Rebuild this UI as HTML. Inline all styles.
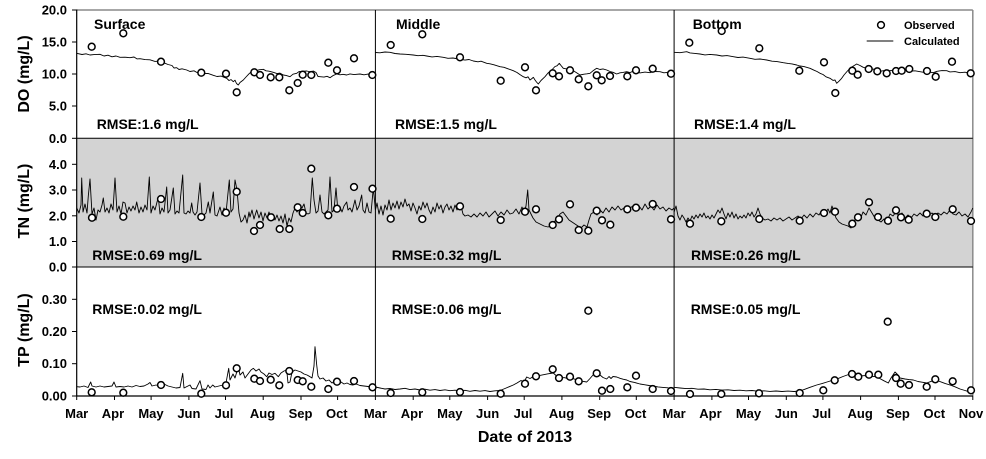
<!DOCTYPE html>
<html>
<head>
<meta charset="utf-8">
<style>
html,body{margin:0;padding:0;background:#fff;}
svg{display:block;}
text{font-family:"Liberation Sans",Arial,sans-serif;font-weight:bold;fill:#000;}
.ln{fill:none;stroke:#000;stroke-width:0.9;stroke-linejoin:round;}
.ob circle{fill:#fff;stroke:#000;stroke-width:1.5;}
</style>
</head>
<body>
<svg width="986" height="459" viewBox="0 0 986 459" xmlns="http://www.w3.org/2000/svg">
<!-- TN grey background -->
<rect x="76.7" y="138.3" width="896.1" height="128.7" fill="#d3d3d3"/>

<!-- frame -->
<line x1="76.7" y1="10" x2="972.8" y2="10" stroke="#8a8a8a" stroke-width="1.5"/>
<line x1="972.8" y1="10" x2="972.8" y2="396" stroke="#8a8a8a" stroke-width="1.5"/>
<line x1="76.7" y1="9.5" x2="76.7" y2="396" stroke="#000" stroke-width="1.2"/>
<line x1="76.7" y1="396" x2="972.8" y2="396" stroke="#000" stroke-width="1.2"/>
<line x1="76.7" y1="138.3" x2="972.8" y2="138.3" stroke="#000" stroke-width="1"/>
<line x1="76.7" y1="267" x2="972.8" y2="267" stroke="#000" stroke-width="1"/>
<line x1="375.4" y1="10" x2="375.4" y2="396" stroke="#000" stroke-width="1"/>
<line x1="674.1" y1="10" x2="674.1" y2="396" stroke="#000" stroke-width="1"/>

<!-- y ticks -->
<g stroke="#000" stroke-width="1">
<line x1="72" y1="10" x2="76.7" y2="10"/><line x1="72" y1="42" x2="76.7" y2="42"/><line x1="72" y1="74" x2="76.7" y2="74"/><line x1="72" y1="106" x2="76.7" y2="106"/><line x1="72" y1="138.3" x2="76.7" y2="138.3"/>
<line x1="72" y1="164.3" x2="76.7" y2="164.3"/><line x1="72" y1="190" x2="76.7" y2="190"/><line x1="72" y1="215.8" x2="76.7" y2="215.8"/><line x1="72" y1="241.5" x2="76.7" y2="241.5"/><line x1="72" y1="267" x2="76.7" y2="267"/>
<line x1="72" y1="299.3" x2="76.7" y2="299.3"/><line x1="72" y1="331.5" x2="76.7" y2="331.5"/><line x1="72" y1="363.7" x2="76.7" y2="363.7"/><line x1="72" y1="396" x2="76.7" y2="396"/>
</g>
<!-- y tick labels -->
<g font-size="13" text-anchor="end">
<text x="67" y="14.5">20.0</text><text x="67" y="46.5">15.0</text><text x="67" y="78.5">10.0</text><text x="67" y="110.5">5.0</text><text x="67" y="142.8">0.0</text>
<text x="67" y="168.8">4.0</text><text x="67" y="194.5">3.0</text><text x="67" y="220.3">2.0</text><text x="67" y="246">1.0</text><text x="67" y="271.5">0.0</text>
<text x="67" y="303.8">0.30</text><text x="67" y="336">0.20</text><text x="67" y="368.2">0.10</text><text x="67" y="400.5">0.00</text>
</g>

<!-- x ticks -->
<g stroke="#000" stroke-width="1">
<line x1="76.7" y1="396" x2="76.7" y2="400"/><line x1="114.5" y1="396" x2="114.5" y2="400"/><line x1="151.1" y1="396" x2="151.1" y2="400"/><line x1="188.9" y1="396" x2="188.9" y2="400"/><line x1="225.5" y1="396" x2="225.5" y2="400"/><line x1="263.2" y1="396" x2="263.2" y2="400"/><line x1="301" y1="396" x2="301" y2="400"/><line x1="337.6" y1="396" x2="337.6" y2="400"/>
<line x1="375.4" y1="396" x2="375.4" y2="400"/><line x1="413.2" y1="396" x2="413.2" y2="400"/><line x1="449.8" y1="396" x2="449.8" y2="400"/><line x1="487.6" y1="396" x2="487.6" y2="400"/><line x1="524.2" y1="396" x2="524.2" y2="400"/><line x1="561.9" y1="396" x2="561.9" y2="400"/><line x1="599.7" y1="396" x2="599.7" y2="400"/><line x1="636.3" y1="396" x2="636.3" y2="400"/>
<line x1="674.1" y1="396" x2="674.1" y2="400"/><line x1="711.9" y1="396" x2="711.9" y2="400"/><line x1="748.5" y1="396" x2="748.5" y2="400"/><line x1="786.3" y1="396" x2="786.3" y2="400"/><line x1="822.9" y1="396" x2="822.9" y2="400"/><line x1="860.6" y1="396" x2="860.6" y2="400"/><line x1="898.4" y1="396" x2="898.4" y2="400"/><line x1="935" y1="396" x2="935" y2="400"/><line x1="972.8" y1="396" x2="972.8" y2="400"/>
</g>
<g font-size="13" text-anchor="middle">
<text x="76.7" y="418">Mar</text><text x="113" y="418">Apr</text><text x="151" y="418">May</text><text x="188.9" y="418">Jun</text><text x="224" y="418">Jul</text><text x="262.5" y="418">Aug</text><text x="300.5" y="418">Sep</text><text x="336.8" y="418">Oct</text>
<text x="375.4" y="418">Mar</text><text x="412" y="418">Apr</text><text x="449.8" y="418">May</text><text x="487.6" y="418">Jun</text><text x="523" y="418">Jul</text><text x="561.5" y="418">Aug</text><text x="599.2" y="418">Sep</text><text x="635.5" y="418">Oct</text>
<text x="674.1" y="418">Mar</text><text x="710.5" y="418">Apr</text><text x="748.5" y="418">May</text><text x="786.3" y="418">Jun</text><text x="821.7" y="418">Jul</text><text x="860.2" y="418">Aug</text><text x="897.9" y="418">Sep</text><text x="934.3" y="418">Oct</text><text x="971" y="418">Nov</text>
</g>
<text x="525" y="442" font-size="16" text-anchor="middle">Date of 2013</text>

<!-- axis titles -->
<text transform="translate(29,74) rotate(-90)" font-size="16" text-anchor="middle">DO (mg/L)</text>
<text transform="translate(29,201) rotate(-90)" font-size="16" text-anchor="middle">TN (mg/L)</text>
<text transform="translate(29,330) rotate(-90)" font-size="16" text-anchor="middle">TP (mg/L)</text>

<!-- panel labels -->
<g font-size="14">
<text x="94" y="29">Surface</text>
<text x="396" y="29">Middle</text>
<text x="692.7" y="29">Bottom</text>
<text x="96.7" y="129">RMSE:1.6 mg/L</text>
<text x="395" y="129">RMSE:1.5 mg/L</text>
<text x="694" y="129">RMSE:1.4 mg/L</text>
<text x="92.3" y="260">RMSE:0.69 mg/L</text>
<text x="391.7" y="260">RMSE:0.32 mg/L</text>
<text x="691" y="260">RMSE:0.26 mg/L</text>
<text x="92.3" y="314">RMSE:0.02 mg/L</text>
<text x="391.7" y="314">RMSE:0.06 mg/L</text>
<text x="690.7" y="314">RMSE:0.05 mg/L</text>
</g>

<!-- legend -->
<circle cx="881" cy="25" r="3.4" fill="#fff" stroke="#000" stroke-width="1.5"/>
<text x="904" y="29" font-size="11">Observed</text>
<line x1="866.7" y1="41" x2="893.3" y2="41" stroke="#000" stroke-width="1"/>
<text x="904" y="45" font-size="11">Calculated</text>

<!-- DO lines -->
<polyline class="ln" points="76.7,53.3 82,54.5 86,53.8 90,55 94,54.6 100,54.3 104,56 108,55.2 112,56.8 116,56 120,57.3 125,57.2 130,57.7 134,57 137,58.9 140,58.7 145,59.6 150,59.8 155,61.4 160,61 164,62.8 168,64.5 172,65.5 174,68 176.7,67.7 179,69.5 182,68.8 186.7,70 190,71.5 194,70.8 197,72.5 200,72 204,73.6 208,73.4 213.3,75.3 217,76.5 221,76.1 226.7,78.3 229,80.5 231,79.6 233.3,81.7 235,80.2 236.5,83.5 238.3,85 240,82.5 243.3,80 246,77 249,73.8 253.3,70 256,71 259,69.8 263.3,69.3 266,70.8 269,71.2 273.3,72.3 277,73.6 280,73.1 283.3,75 286,75.4 290,76.7 293,74.2 296.7,73.3 299,71.6 303,71.3 306.7,71 310,71.8 313.3,71 316,72.5 318,76.5 320,76.7 324,77.1 327,76.3 330,77.7 333,75.6 336.7,74 340,74.8 343,74.3 346.7,75 350,73.9 354,74.6 360,74 364,74.8 368,74.1 373.3,75 375.4,74.5"/>
<polyline class="ln" points="375.4,52.5 380,52.8 385,52 390,52.3 395,53.5 400,54 406,54.3 413.3,55 418,55.7 423,55.3 426.7,56 432,56.9 437,56.4 443.3,57.3 448,58.3 453,58 460,59.3 465,60.1 469,59.5 473.3,61 478,61.8 481,61.2 486.7,63.3 490,63.8 494,64.8 500,66.7 504,67.3 508,68.8 513.3,70.7 517,72.5 520,74.6 523.3,76.7 526,77.8 528,76.8 530,80 532,78.5 533.3,77.3 535,80 536.5,82 538.3,84 541,80.5 545,76.7 548,73 551.7,70 555,66.5 557,65.8 559.3,63.3 561,65.5 563.3,68.3 566,68.8 569,69.5 573.3,70.7 576,72.4 580,75 584,74.2 587,73.8 590,73.3 593,70.8 596.7,68.3 600,69.5 603,68.9 606.7,70 610,71.5 613,72.3 616.7,74 620,72.8 623,72.4 626.7,71.7 630,72.6 633,71.2 636.7,71.7 640,72.9 645,72.1 650,72.7 654,71.5 660,71.7 664,72.8 668,72.3 674.1,73.3"/>
<polyline class="ln" points="674.1,52.3 680,52.7 686.7,51.7 690,52.9 695,53.4 700,54 705,54.9 710,54.4 716.7,55 722,56 727,55.6 733.3,56.7 738,57.5 743,57.1 750,58.3 755,59.3 760,59 766.7,60 772,61.2 777,61.6 783.3,62.7 788,63.4 792,63.9 796.7,65 800,66 804,66.6 810,68.3 814,70.2 817,71.5 820,73.3 823,74.5 826,76.8 830,78.3 833,80.4 835,80 836.7,83.3 839,81.2 841.7,78.3 844,75 847,71.5 850,68.3 853,66.2 856.7,64 860,65.5 863,67.2 866.7,68.3 870,69.4 873,69.1 876.7,70 880,71.3 885,70.4 890,70.7 895,69.8 900,70.6 906.7,70 910,71.2 915,70.8 920,71.7 925,72.6 929,72.1 933.3,72.7 937,71.3 942,70.6 946.7,70.7 950,71.9 955,71.6 960,72.7 965,72.2 969,73.1 972.8,73.3"/>

<!-- TN lines -->
<polyline class="ln" points="76.7,208 79,213 81,205 81.7,178 83,212 85,204 87,213 88.3,196 90,179 92,214 94,208 96,220 98,210 100,212 102,205 103.3,198 105,212 107,208 109,213 111,204 113,210 115,178 117,212 119,206 121,214 123,202 125,203 127,213 129,207 131,211 133,206 135,210 136.7,202 139,213 141,207 143,212 145,205 147,210 149.3,177 151,213 153,206 155,210 158.3,197 160,214 162,208 164,212 166.7,187 168,213 170,210 173.3,188 175,214 177,211 179,213 182.7,175 184,213 186,214 188,211 190,213 191.7,203 193,212 195,215 197,212 200,183 202,214 204,215 206,213 208.3,202 210,213 213.3,192 215,215 217,216 220,207 222,215 224,208 226,213 229.3,180 231,212 233,209 235,180 237,190 239,213 241,222 243,220 245,215 247,223 249,212 250,217 252,210 254,219 256.7,210 259,218 261,212 263,221 265,213 267,218 269,212 271,219 273,214 275,220 277,215 279,221 281,216 283,223 285,214 287,226 289,218 291,222 293,213 295,208 297,212 300,206 302,208 304,204 306,213 308,214 310,213 312.3,178 314,200 316,213 318,211 320,195 322,212 324,214 326,212 328,210 330,177 332,212 334,210 336,188 338,212 340,207 342,212 344,206 346.7,202 348,210 350,208 352,212 355,200 357,210 359,206 361.7,195 363,210 365,213 367,203 369,212 371,213 373.3,188 375.4,210"/>
<polyline class="ln" points="375.4,210 377,203 379,214 381,206 383,215 385,205 387,210 389,200 391,210 393,203 395,208 397,201 399,209 401,202 403,207 405,199 407,206 409,204 411,211 413,203 415,208 417,214 419,206 421,210 423,202 425,208 427,203 429,210 431,214 433,207 435,212 437,203 439,209 441,205 443,213 445,207 447,204 449,210 451,206 453,212 455,205 457,210 459,203 461,206 463,214 465,216 468,215 471,217 474,214 477,217 480,213 483,216 486,212 489,217 492,214 495,211 498,216 501,212 504,215 507,210 510,214 513,213 516,209 519,214 522,207 524,212 526,206 527.7,190 529,210 531,214 533,218 536,222 540,224 544,226 548,227 551,226 554,222 557,219 560,214 563,212 566,216 569,220 572,222 575,224 578,226 581,228 584,225 587,227 589,220 591,214 594,212 597,215 600,210 603,213 606,208 609,212 612,207 615,210 618,206 621,210 624,208 627,211 630,208 633,206 636,209 639,206 642,210 645,204 648,209 651,206 654,210 657,205 660,209 663,207 666,211 669,208 672,210 674.1,208"/>
<polyline class="ln" points="674.1,212 676,206 678,216 680,220 682,215 684,218 686,222 688,218 690,221 692,216 694,219 696,215 698,218 700,214 702,217 704,213 706,218 708,216 710,219 712,215 714,218 716,214 718,210 720,213 722,208 724,214 726,219 728,213 730,217 732,212 734,218 736,214 738,219 740,216 742,218 744,215 746,218 748,213 750,216 752,212 754,217 756,214 758,208 760,214 762,218 765,220 768,219 771,221 774,218 777,220 780,218 783,221 786,219 789,217 792,220 795,218 798,216 801,219 804,215 807,218 810,214 813,217 816,213 819,215 822,210 825,214 828,209 830,213 832,206 834,212 836,218 839,222 842,224 845,225 848,226 851,228 854,222 857,216 860,220 863,212 866,215 869,208 872,213 875,218 878,220 881,222 884,219 887,221 890,214 893,216 896,212 899,216 902,213 905,218 908,215 911,218 914,214 917,216 920,213 923,216 926,212 929,215 932,213 935,216 938,213 941,215 944,212 947,214 950,210 953,214 956,215 959,212 962,216 965,214 968,217 971,212 972.8,208"/>

<!-- TP lines -->
<polyline class="ln" points="76.7,386.7 80,387 84,386 88,387.5 90.7,382 92,386 96,387 100,386 104,387 108,386.5 112,386 114,382 116,387 120,386.5 124,387 128,386 132,387 136,385.5 140,386.5 144,386 148,384 150,382.5 152,386 156,385 160,386 164,384 168,386 172,387 176,388 180,387.5 182.7,373.3 184,388 188,386 190,385 192,388.5 196,389 200,380.7 202,389 206,389.5 208,385 210,388 212.7,385 215,387 219,386 223,385 226,383 228.7,368.3 230,380 233,374 235,378 238.3,366.7 240,375 243,372 245,378 248,374 251,370 253.3,368.3 256,371 259,369 261,372 264,374 266.7,376.7 269,373 272,374.5 275,373.3 278.3,376.7 281,373 284,371 286.7,370 288,383 290,382 292,372 295,370 298,371 301,372 304,374 307,375 310,376.7 312,378 314,366 315,346.7 316.7,365 318,376 320,379 323,378 326,381 329,380 332,383 335,381 338,383 341,382 344,384 347,383 350,384.5 353,385 356,384 360,385.5 364,386 368,386.5 372,387 375.4,387"/>
<polyline class="ln" points="375.4,387 380,388 385,389 390,388.5 395,389.5 400,389 405,388.3 410,389.6 415,389 420,390 425,389.2 430,390.2 435,389.6 440,390.5 445,389.8 450,390.7 455,390.2 460,390.9 465,390.3 470,391.3 475,390.5 480,391.2 485,390.6 490,391.5 495,390.8 500,390.5 505,388.5 509,386.8 513.3,385 517,383 521,380.5 524,382 526.7,377 530,378.5 533.3,376.7 538,375.8 543,374.8 548,373.8 553.3,373 556,375.5 560,378.3 564,377.6 568,378.5 573.3,378.7 578,380.3 582,381.2 586.7,382 590,378.5 593,375 596.7,372 600,375 603,377.5 606.7,379 609,376.5 611,378.5 613,376.5 616.7,377 620,378.3 623,379.2 626.7,380 630,381.5 635,382.6 640,384 645,384.8 649,385.5 653.3,386 658,386.9 663,387.4 668,387.8 674.1,388"/>
<polyline class="ln" points="674.1,387.3 680,388 686,388.6 692,388.3 698,389.2 704,389 710,389.8 716,389.4 722,390.1 728,389.8 734,390.5 740,390.2 746,390.8 752,390.5 758,391.2 764,390.8 770,391.4 776,391 782,391.5 788,391.1 794,391.5 800,391 805,389.2 810,387.3 816.7,385 822,383.6 827,382 833.3,380 838,378.6 843,376.5 850,374 855,375.2 860,376 865,375.6 870,376.3 876.7,376.7 880,378.6 884,380.8 888.3,383 891,378 895,372 898,375 900,378 905,379 909,379.6 913.3,380 918,381.5 922,382.2 926.7,383 930,381.8 933,380.7 936.7,380 940,381.6 945,383.4 950,385 955,386.8 960,389 965,390.5 969,391.8 972.8,393"/>

<!-- Observed points -->
<g class="ob">
<!-- DO -->
<circle cx="91.7" cy="46.7" r="3.4"/><circle cx="123.3" cy="33.3" r="3.4"/><circle cx="161" cy="61.7" r="3.4"/><circle cx="201.3" cy="72.7" r="3.4"/><circle cx="226" cy="73.7" r="3.4"/><circle cx="236.7" cy="92.3" r="3.4"/><circle cx="254.3" cy="72.3" r="3.4"/><circle cx="260" cy="75" r="3.4"/><circle cx="270.7" cy="77.3" r="3.4"/><circle cx="279.3" cy="77.3" r="3.4"/><circle cx="289.3" cy="90.3" r="3.4"/><circle cx="297.7" cy="83" r="3.4"/><circle cx="302.7" cy="74.7" r="3.4"/><circle cx="311.3" cy="75" r="3.4"/><circle cx="328.3" cy="62.7" r="3.4"/><circle cx="337" cy="70.3" r="3.4"/><circle cx="354" cy="58.3" r="3.4"/><circle cx="372.3" cy="75" r="3.4"/>
<circle cx="390.7" cy="45" r="3.4"/><circle cx="422.3" cy="34.3" r="3.4"/><circle cx="460" cy="57.3" r="3.4"/><circle cx="500.7" cy="80.7" r="3.4"/><circle cx="525" cy="67.3" r="3.4"/><circle cx="536" cy="90.3" r="3.4"/><circle cx="552.7" cy="73.3" r="3.4"/><circle cx="559" cy="76.3" r="3.4"/><circle cx="570" cy="70.3" r="3.4"/><circle cx="578.7" cy="79.3" r="3.4"/><circle cx="588.3" cy="86.3" r="3.4"/><circle cx="596.7" cy="75.3" r="3.4"/><circle cx="601.7" cy="80.3" r="3.4"/><circle cx="610" cy="76" r="3.4"/><circle cx="627.3" cy="76.3" r="3.4"/><circle cx="636" cy="70.3" r="3.4"/><circle cx="652.7" cy="68.7" r="3.4"/><circle cx="671" cy="73.7" r="3.4"/>
<circle cx="689.3" cy="42.7" r="3.4"/><circle cx="721.7" cy="31" r="3.4"/><circle cx="759.3" cy="48.3" r="3.4"/><circle cx="799.3" cy="70.7" r="3.4"/><circle cx="824" cy="62.3" r="3.4"/><circle cx="835.3" cy="93" r="3.4"/><circle cx="852.3" cy="70.7" r="3.4"/><circle cx="857.7" cy="74.7" r="3.4"/><circle cx="868.7" cy="69" r="3.4"/><circle cx="877.3" cy="71.3" r="3.4"/><circle cx="886.7" cy="73.3" r="3.4"/><circle cx="896" cy="71" r="3.4"/><circle cx="901.7" cy="70.7" r="3.4"/><circle cx="909.3" cy="69" r="3.4"/><circle cx="927" cy="71" r="3.4"/><circle cx="935.7" cy="76.7" r="3.4"/><circle cx="952" cy="61.7" r="3.4"/><circle cx="970.7" cy="73.3" r="3.4"/>
<!-- TN -->
<circle cx="92" cy="217.7" r="3.4"/><circle cx="123.3" cy="216.7" r="3.4"/><circle cx="161" cy="199" r="3.4"/><circle cx="201.3" cy="217" r="3.4"/><circle cx="226" cy="212.7" r="3.4"/><circle cx="236.7" cy="191.7" r="3.4"/><circle cx="254" cy="231" r="3.4"/><circle cx="260" cy="225" r="3.4"/><circle cx="271" cy="217.3" r="3.4"/><circle cx="279.7" cy="229" r="3.4"/><circle cx="289.3" cy="229" r="3.4"/><circle cx="297.7" cy="207.3" r="3.4"/><circle cx="302.7" cy="213" r="3.4"/><circle cx="311.3" cy="168.7" r="3.4"/><circle cx="328.3" cy="215.3" r="3.4"/><circle cx="337" cy="208.7" r="3.4"/><circle cx="354" cy="187" r="3.4"/><circle cx="372.5" cy="188.7" r="3.4"/>
<circle cx="390.7" cy="218.7" r="3.4"/><circle cx="422.3" cy="219" r="3.4"/><circle cx="460" cy="206.3" r="3.4"/><circle cx="500.7" cy="220" r="3.4"/><circle cx="525" cy="211.7" r="3.4"/><circle cx="536" cy="209.3" r="3.4"/><circle cx="552.7" cy="225" r="3.4"/><circle cx="559" cy="219.3" r="3.4"/><circle cx="570" cy="204.3" r="3.4"/><circle cx="578.7" cy="230" r="3.4"/><circle cx="588.3" cy="230.7" r="3.4"/><circle cx="596.7" cy="210.7" r="3.4"/><circle cx="602" cy="220.3" r="3.4"/><circle cx="610.3" cy="224.7" r="3.4"/><circle cx="627.3" cy="209.3" r="3.4"/><circle cx="636" cy="207.7" r="3.4"/><circle cx="652.7" cy="204" r="3.4"/><circle cx="671" cy="219.3" r="3.4"/>
<circle cx="690" cy="223.7" r="3.4"/><circle cx="721.3" cy="221.3" r="3.4"/><circle cx="759.3" cy="219" r="3.4"/><circle cx="799.7" cy="220.7" r="3.4"/><circle cx="824" cy="213" r="3.4"/><circle cx="835" cy="211.7" r="3.4"/><circle cx="852.3" cy="223.7" r="3.4"/><circle cx="858" cy="217.3" r="3.4"/><circle cx="869" cy="202.3" r="3.4"/><circle cx="878" cy="217" r="3.4"/><circle cx="888" cy="220.7" r="3.4"/><circle cx="896" cy="210.3" r="3.4"/><circle cx="901" cy="217.3" r="3.4"/><circle cx="908.7" cy="219.7" r="3.4"/><circle cx="926.7" cy="213.7" r="3.4"/><circle cx="935.3" cy="217" r="3.4"/><circle cx="952.7" cy="209.3" r="3.4"/><circle cx="971" cy="221" r="3.4"/>
<!-- TP -->
<circle cx="91.7" cy="392.3" r="3.4"/><circle cx="123.3" cy="392.7" r="3.4"/><circle cx="161" cy="385" r="3.4"/><circle cx="201.3" cy="393.7" r="3.4"/><circle cx="226" cy="385.3" r="3.4"/><circle cx="236.7" cy="368.3" r="3.4"/><circle cx="254.3" cy="378.7" r="3.4"/><circle cx="260" cy="381" r="3.4"/><circle cx="270.7" cy="379.7" r="3.4"/><circle cx="279.3" cy="385.3" r="3.4"/><circle cx="289.3" cy="371" r="3.4"/><circle cx="297.7" cy="380" r="3.4"/><circle cx="302.7" cy="381.3" r="3.4"/><circle cx="311.3" cy="386.7" r="3.4"/><circle cx="328.3" cy="389" r="3.4"/><circle cx="337" cy="381.7" r="3.4"/><circle cx="354" cy="381" r="3.4"/><circle cx="372.5" cy="387.3" r="3.4"/>
<circle cx="390.7" cy="393" r="3.4"/><circle cx="422.3" cy="392.3" r="3.4"/><circle cx="460" cy="392" r="3.4"/><circle cx="500.7" cy="393.7" r="3.4"/><circle cx="525" cy="383.7" r="3.4"/><circle cx="536" cy="376.3" r="3.4"/><circle cx="552.7" cy="369.3" r="3.4"/><circle cx="559" cy="378" r="3.4"/><circle cx="570" cy="376.7" r="3.4"/><circle cx="578.7" cy="381.3" r="3.4"/><circle cx="588.3" cy="310.7" r="3.4"/><circle cx="596.7" cy="373.3" r="3.4"/><circle cx="602" cy="390.7" r="3.4"/><circle cx="610.3" cy="389" r="3.4"/><circle cx="627.3" cy="387.3" r="3.4"/><circle cx="636" cy="375.7" r="3.4"/><circle cx="652.7" cy="389" r="3.4"/><circle cx="671" cy="391" r="3.4"/>
<circle cx="690" cy="394" r="3.4"/><circle cx="721.3" cy="394" r="3.4"/><circle cx="759" cy="393.3" r="3.4"/><circle cx="799.7" cy="393" r="3.4"/><circle cx="823.3" cy="390.3" r="3.4"/><circle cx="834.7" cy="380.3" r="3.4"/><circle cx="852" cy="374" r="3.4"/><circle cx="858.3" cy="376.7" r="3.4"/><circle cx="869" cy="374.7" r="3.4"/><circle cx="878.3" cy="374.7" r="3.4"/><circle cx="887.7" cy="321.7" r="3.4"/><circle cx="896" cy="378" r="3.4"/><circle cx="900.7" cy="383.7" r="3.4"/><circle cx="909" cy="385" r="3.4"/><circle cx="926.7" cy="386.7" r="3.4"/><circle cx="935.3" cy="379.3" r="3.4"/><circle cx="952.7" cy="381.3" r="3.4"/><circle cx="971" cy="390.3" r="3.4"/>
</g>
</svg>
</body>
</html>
